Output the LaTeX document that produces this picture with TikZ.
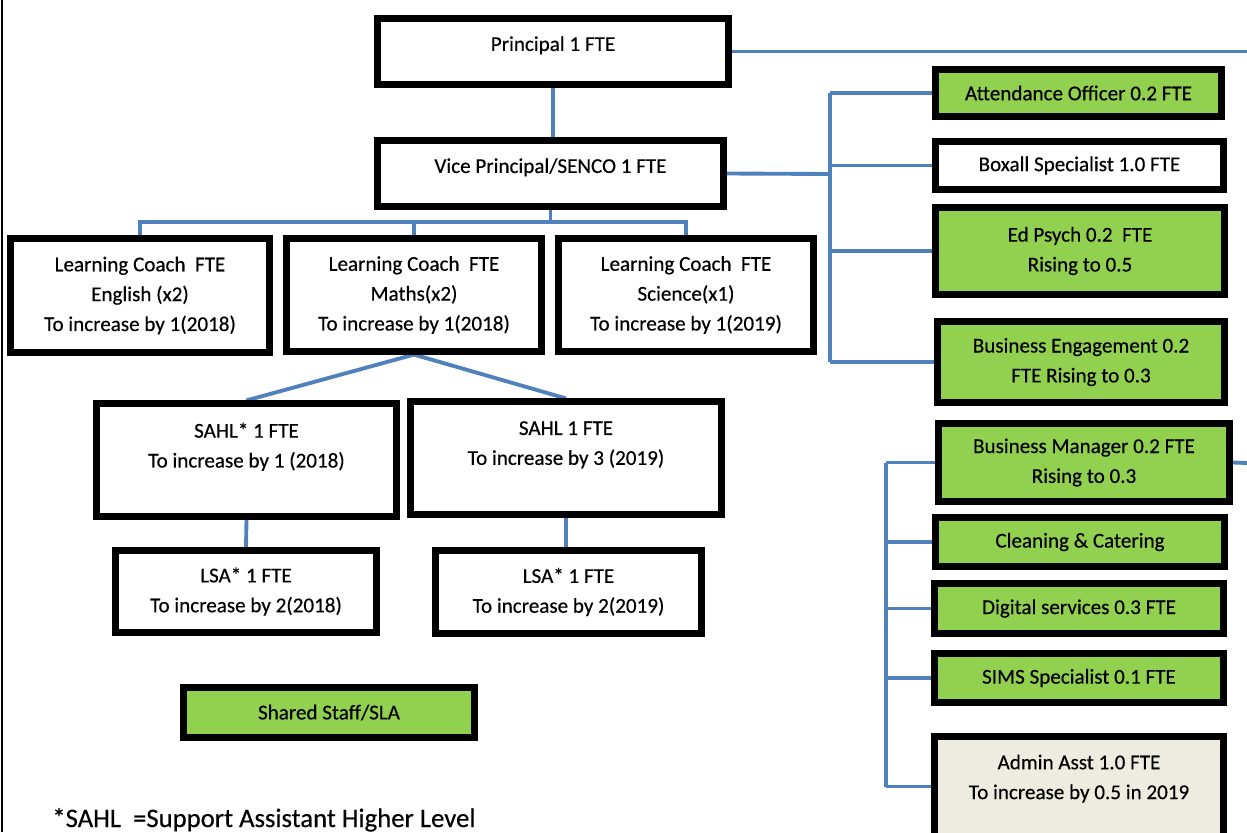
\documentclass[tikz,border=0pt]{standalone}
\usepackage{fontspec}
\setmainfont{Carlito}[FakeBold=0.4]
\usetikzlibrary{backgrounds}
\definecolor{linkblue}{HTML}{4F81BD}
\definecolor{staffgreen}{HTML}{92D050}
\definecolor{adminbeige}{HTML}{EEECE1}

\begin{document}
\begin{tikzpicture}[x=0.02cm, y=-0.02cm,
    box/.style={draw, line width=3.5pt, fill=white, align=center, inner sep=0pt,
      font=\fontsize{12}{17}\selectfont},
    greenbox/.style={box, fill=staffgreen},
    boxsize/.style 2 args={minimum width=#1*0.02cm, minimum height=#2*0.02cm},
    conn/.style={draw=linkblue, line width=2.2pt}]
  \useasboundingbox (0,0) rectangle (1247,832);
  \draw[line width=1pt] (2,0) -- (2,832);

  % leadership
  \node[box, boxsize={351}{66}, text depth=9pt] (principal) at (553,51.5) {Principal 1 FTE};
  \node[box, boxsize={346}{66}, text depth=9pt] (vp) at (550.5,173.5) {Vice Principal/SENCO 1 FTE};

  % learning coaches
  \node[box, boxsize={259}{114}] (lcEng) at (140,295.5) {Learning Coach\ \ FTE\\English (x2)\\To increase by 1(2018)};
  \node[box, boxsize={255}{113}] (lcMath) at (414,295) {Learning Coach\ \ FTE\\Maths(x2)\\To increase by 1(2018)};
  \node[box, boxsize={255}{113}] (lcSci) at (686,295) {Learning Coach\ \ FTE\\Science(x1)\\To increase by 1(2019)};

  % support assistants
  \node[box, boxsize={300}{113}] (sahlA) at (246.5,460) {SAHL* 1 FTE\\To increase by 1 (2018)\\ \mbox{}};
  \node[box, boxsize={311}{113}] (sahlB) at (566,458) {SAHL 1 FTE\\To increase by 3 (2019)\\ \mbox{}};
  \node[box, boxsize={261}{82}] (lsaA) at (246,591.5) {LSA* 1 FTE\\To increase by 2(2018)};
  \node[box, boxsize={266}{83}] (lsaB) at (568.5,592) {LSA* 1 FTE\\To increase by 2(2019)};

  \node[greenbox, boxsize={291}{50}] (shared) at (329,712.5) {Shared Staff/SLA};

  % specialist staff
  \node[greenbox, boxsize={286}{47}] (attend) at (1078.5,93) {Attendance Officer 0.2 FTE};
  \node[box, boxsize={288}{48}] (boxall) at (1079.5,165.5) {Boxall Specialist 1.0 FTE};
  \node[greenbox, boxsize={289}{87}] (edpsych) at (1080,251) {Ed Psych 0.2\ \ FTE\\Rising to 0.5};
  \node[greenbox, boxsize={287}{81}] (busEng) at (1081,362) {Business Engagement 0.2\\FTE Rising to 0.3};

  % operations
  \node[greenbox, boxsize={291}{78}] (busMgr) at (1084,462.5) {Business Manager 0.2 FTE\\Rising to 0.3};
  \node[greenbox, boxsize={289}{49}] (cleaning) at (1080,542) {Cleaning \& Catering};
  \node[greenbox, boxsize={289}{50}] (digital) at (1079,608.5) {Digital services 0.3 FTE};
  \node[greenbox, boxsize={289}{49}] (sims) at (1079,678) {SIMS Specialist 0.1 FTE};
  \node[box, fill=adminbeige, boxsize={289}{100}, text depth=11pt] (admin) at (1079,786.5) {Admin Asst 1.0 FTE\\To increase by 0.5 in 2019};

  \node[anchor=base west, inner sep=0pt, font=\fontsize{15.2}{18}\selectfont] (note) at (52,827) {*SAHL\ \ =Support Assistant Higher Level};

  \begin{scope}[on background layer]
    \coordinate (pEdge) at (1247,51.5);
    \draw[conn] (principal.south) -- (principal.south |- vp.north);
    \draw[conn] (principal.east) -- (pEdge);
    % coaches
    \coordinate (lcBus) at (553,222);
    \draw[conn] (vp.south) -- (vp.south |- lcBus);
    \draw[conn] (lcEng.north) -- (lcEng.north |- lcBus) -- (lcSci.north |- lcBus) -- (lcSci.north);
    \draw[conn] (lcMath.north) -- (lcMath.north |- lcBus);
    \draw[conn] (lcMath.south) -- (sahlA.north);
    \draw[conn] (lcMath.south) -- (sahlB.north);
    \draw[conn] (sahlA.south) -- (lsaA.north);
    \draw[conn] (sahlB.south) -- (sahlB.south |- lsaB.north);
    % specialist bus
    \coordinate (sBus) at (830,174);
    \draw[conn] (vp.east) -- (sBus);
    \draw[conn] (sBus |- attend.west) -- (sBus |- busEng.west);
    \foreach \n in {attend,boxall,edpsych,busEng}
      \draw[conn] (sBus |- \n.west) -- (\n.west);
    % operations bus
    \coordinate (oBus) at (886,463);
    \coordinate (mEdge) at (1247,463);
    \draw[conn] (oBus |- busMgr.west) -- (oBus |- admin.west);
    \foreach \n in {busMgr,cleaning,digital,sims,admin}
      \draw[conn] (oBus |- \n.west) -- (\n.west);
    \draw[conn] (busMgr.east) -- (mEdge);
  \end{scope}
\end{tikzpicture}
\end{document}
